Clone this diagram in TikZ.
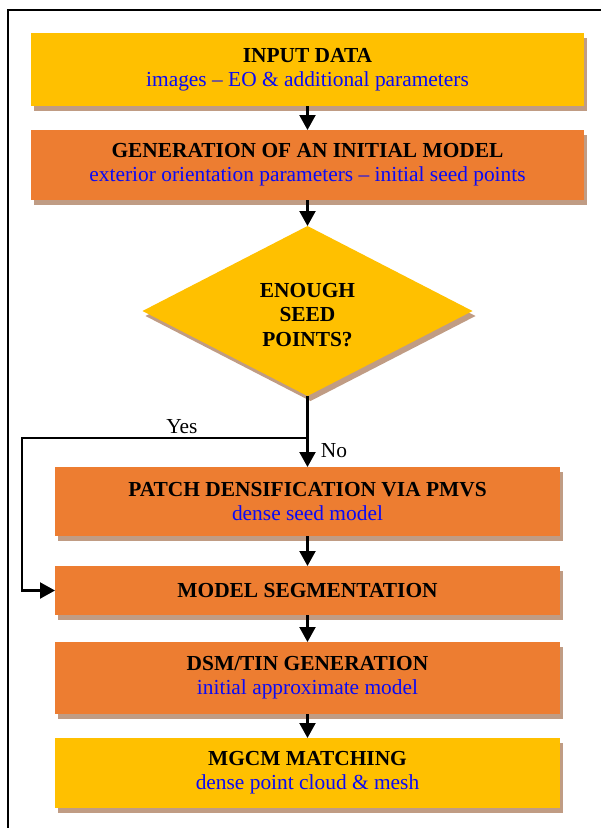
\documentclass[tikz,border=0pt]{standalone}
\usepackage{fontspec}
\setmainfont{Liberation Serif}
\usepackage{tikz}
\usetikzlibrary{arrows.meta,positioning,shapes.geometric,shadows}
\definecolor{gold}{RGB}{255,192,0}
\definecolor{orangebox}{RGB}{237,125,49}
\definecolor{shadowbrown}{RGB}{192,156,132}
\definecolor{subblue}{RGB}{10,10,245}

\begin{document}
\begin{tikzpicture}
              [x=1pt,y=-1pt,
                every node/.style={font=\fontsize{21.4}{24}\selectfont,outer sep=0pt},
                box/.style={rectangle,draw=none,align=center,inner sep=0pt,
                  drop shadow={shadow xshift=3pt,shadow yshift=-5pt,fill=shadowbrown,opacity=1}},
                wide/.style={box,minimum width=553pt},
                narrow/.style={box,minimum width=505pt},
                decision/.style={diamond,draw=none,fill=gold,inner sep=0pt,
                  minimum width=330pt,minimum height=170pt,
                  drop shadow={shadow xshift=3pt,shadow yshift=-5pt,fill=shadowbrown,opacity=1}},
                flow/.style={line width=2.2pt,-{Triangle[length=15pt,width=16pt]}}]
              \useasboundingbox (0,0) rectangle (601,828);
              \draw[line width=2pt] (7.5,840) -- (7.5,9.5) -- (620,9.5);
              \node[wide,fill=gold,minimum height=73pt] (input) at (307.5,69.5)
                {\textbf{INPUT DATA}\\\textcolor{subblue}{images -- EO \& additional parameters}};
              \node[wide,fill=orangebox,minimum height=70pt] (gen) [below=24pt of input]
                {\textbf{GENERATION OF AN INITIAL MODEL}\\\textcolor{subblue}{exterior orientation parameters -- initial seed points}};
              \node[decision,label={[align=center,yshift=-4pt,font=\fontsize{21.4}{24.5}\selectfont\bfseries]center:ENOUGH\\SEED\\POINTS?}]
                (seed) [below=26pt of gen] {};
              \node[narrow,fill=orangebox,minimum height=69pt] (patch) [below=71pt of seed]
                {\textbf{PATCH DENSIFICATION VIA PMVS}\\\textcolor{subblue}{dense seed model}};
              \node[narrow,fill=orangebox,minimum height=49pt] (seg) [below=30pt of patch]
                {\textbf{MODEL SEGMENTATION}};
              \node[narrow,fill=orangebox,minimum height=72pt] (dsm) [below=27pt of seg]
                {\textbf{DSM/TIN GENERATION}\\\textcolor{subblue}{initial approximate model}};
              \node[narrow,fill=gold,minimum height=70pt] (mgcm) [below=24pt of dsm]
                {\textbf{MGCM MATCHING}\\\textcolor{subblue}{dense point cloud \& mesh}};
              \coordinate[below=42pt of seed] (split);
              \coordinate[left=33pt of seg] (bend);
              \foreach \from/\to in {input/gen,gen/seed,patch/seg,seg/dsm,dsm/mgcm}
              \draw[flow] (\from) -- (\to);
              \draw[line width=2.2pt] (seed) -- (split);
              \draw[flow] (split) -- node[right=10pt,pos=0.45] {No} (patch);
              \draw[flow] (split) -| node[pos=0.22,above=1pt] {Yes} (bend) -- (seg.west);
            \end{tikzpicture}
\end{document}
